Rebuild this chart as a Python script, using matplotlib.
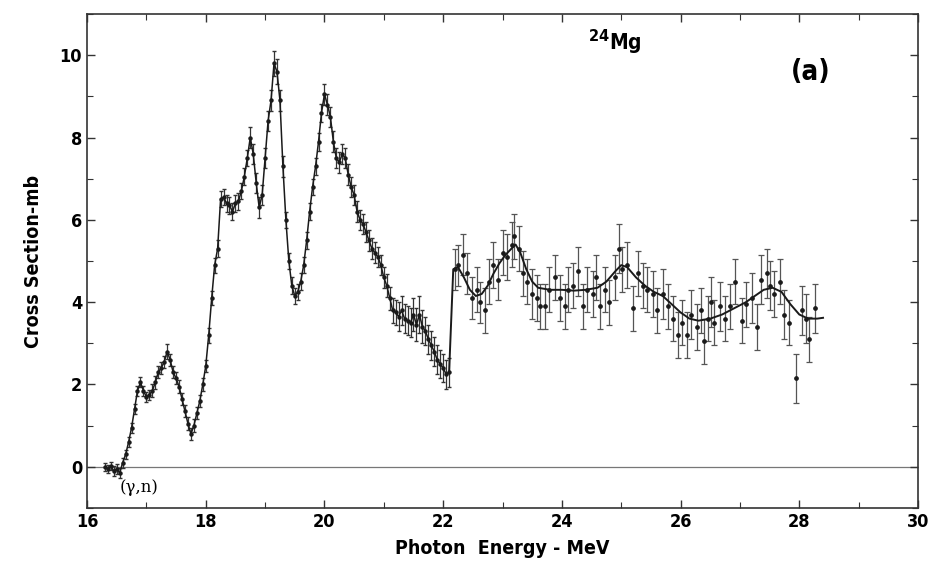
import matplotlib
matplotlib.use("Agg")
import matplotlib.pyplot as plt
from matplotlib import font_manager
from matplotlib.ticker import MultipleLocator

# photon energy (MeV), cross section (mb), error (mb) - low energy region, line joins points
e_low = [16.30, 16.35, 16.40, 16.45, 16.50, 16.55, 16.60, 16.65, 16.70, 16.75,
         16.80, 16.85, 16.90, 16.95, 17.00, 17.05, 17.10, 17.15, 17.20, 17.25,
         17.30, 17.35, 17.40, 17.45, 17.50, 17.55, 17.60, 17.65, 17.70, 17.75,
         17.80, 17.85, 17.90, 17.95, 18.00, 18.05, 18.10, 18.15, 18.20, 18.25,
         18.30, 18.35, 18.40, 18.45, 18.50, 18.55, 18.60, 18.65, 18.70, 18.75,
         18.80, 18.85, 18.90, 18.95, 19.00, 19.05, 19.10, 19.15, 19.20, 19.25,
         19.30, 19.35, 19.40, 19.45, 19.50, 19.55, 19.60, 19.65, 19.70, 19.75,
         19.80, 19.85, 19.90, 19.95, 20.00, 20.05, 20.10, 20.15, 20.20, 20.25,
         20.30, 20.35, 20.40, 20.45, 20.50, 20.55, 20.60, 20.65, 20.70, 20.75,
         20.80, 20.85, 20.90, 20.95, 21.00, 21.05, 21.10, 21.15, 21.20, 21.25,
         21.30, 21.35, 21.40, 21.45, 21.50, 21.55, 21.60, 21.65, 21.70, 21.75,
         21.80, 21.85, 21.90, 21.95, 22.00, 22.05, 22.10]
xs_low = [0.00, -0.05, 0.02, -0.10, -0.05, -0.15, 0.10, 0.30, 0.60, 0.95,
          1.40, 1.85, 2.05, 1.85, 1.70, 1.75, 1.85, 2.05, 2.30, 2.40,
          2.55, 2.80, 2.60, 2.30, 2.15, 1.95, 1.65, 1.35, 1.05, 0.80,
          1.00, 1.30, 1.60, 2.00, 2.45, 3.20, 4.10, 4.90, 5.30, 6.50,
          6.55, 6.40, 6.35, 6.20, 6.40, 6.45, 6.70, 7.05, 7.50, 8.00,
          7.60, 6.90, 6.30, 6.60, 7.50, 8.40, 8.90, 9.80, 9.60, 8.90,
          7.30, 6.00, 5.00, 4.40, 4.15, 4.25, 4.50, 4.90, 5.50, 6.20,
          6.80, 7.30, 7.90, 8.60, 9.05, 8.80, 8.50, 7.90, 7.50, 7.40,
          7.60, 7.50, 7.10, 6.80, 6.60, 6.20, 6.00, 5.90, 5.70, 5.50,
          5.30, 5.20, 5.10, 4.90, 4.60, 4.40, 4.10, 3.80, 3.75, 3.65,
          3.80, 3.60, 3.55, 3.50, 3.70, 3.45, 3.70, 3.40, 3.30, 3.10,
          2.95, 2.80, 2.60, 2.50, 2.40, 2.25, 2.30]
err_low = [0.10, 0.10, 0.10, 0.12, 0.12, 0.12, 0.12, 0.12, 0.12, 0.12,
           0.12, 0.12, 0.12, 0.12, 0.12, 0.12, 0.15, 0.15, 0.15, 0.15,
           0.15, 0.18, 0.15, 0.15, 0.15, 0.15, 0.15, 0.15, 0.15, 0.15,
           0.15, 0.15, 0.15, 0.15, 0.15, 0.18, 0.18, 0.18, 0.20, 0.20,
           0.20, 0.20, 0.20, 0.20, 0.20, 0.20, 0.20, 0.20, 0.20, 0.25,
           0.25, 0.25, 0.25, 0.25, 0.25, 0.25, 0.25, 0.30, 0.30, 0.25,
           0.25, 0.20, 0.20, 0.20, 0.20, 0.20, 0.20, 0.20, 0.20, 0.20,
           0.20, 0.20, 0.22, 0.22, 0.25, 0.25, 0.25, 0.25, 0.25, 0.25,
           0.25, 0.25, 0.25, 0.25, 0.25, 0.25, 0.25, 0.25, 0.25, 0.25,
           0.25, 0.25, 0.25, 0.25, 0.25, 0.28, 0.28, 0.30, 0.30, 0.35,
           0.35, 0.35, 0.35, 0.35, 0.40, 0.40, 0.45, 0.40, 0.35, 0.35,
           0.35, 0.35, 0.35, 0.35, 0.35, 0.35, 0.35]

# high energy region, scattered points around a smooth curve
e_high = [22.20, 22.25, 22.33, 22.40, 22.48, 22.57, 22.62, 22.70, 22.78, 22.84,
          22.92, 23.00, 23.07, 23.16, 23.20, 23.27, 23.34, 23.41, 23.49, 23.58,
          23.63, 23.71, 23.79, 23.88, 23.96, 24.05, 24.10, 24.18, 24.27, 24.35,
          24.43, 24.52, 24.58, 24.64, 24.72, 24.80, 24.89, 24.97, 25.02, 25.10,
          25.19, 25.28, 25.36, 25.44, 25.53, 25.61, 25.70, 25.78, 25.87, 25.95,
          26.03, 26.10, 26.18, 26.27, 26.35, 26.40, 26.46, 26.52, 26.57, 26.66,
          26.74, 26.83, 26.91, 27.03, 27.11, 27.20, 27.28, 27.36, 27.45, 27.50,
          27.58, 27.67, 27.75, 27.83, 27.95, 28.04, 28.12, 28.17, 28.26]
xs_high = [4.80, 4.90, 5.15, 4.70, 4.10, 4.30, 4.00, 3.80, 4.50, 4.90,
           4.55, 5.20, 5.10, 5.40, 5.60, 5.30, 4.70, 4.50, 4.20, 4.10,
           3.90, 3.90, 4.30, 4.60, 4.10, 3.90, 4.30, 4.40, 4.75, 3.90,
           4.30, 4.20, 4.60, 3.90, 4.30, 4.00, 4.60, 5.30, 4.80, 4.90,
           3.85, 4.70, 4.40, 4.30, 4.20, 3.80, 4.20, 3.90, 3.60, 3.20,
           3.50, 3.20, 3.70, 3.40, 3.80, 3.05, 3.60, 4.00, 3.50, 3.90,
           3.60, 3.90, 4.50, 3.55, 3.95, 4.10, 3.40, 4.55, 4.70, 4.40,
           4.20, 4.50, 3.70, 3.50, 2.15, 3.80, 3.60, 3.10, 3.85]
err_high = [0.50, 0.50, 0.50, 0.50, 0.50, 0.55, 0.50, 0.55, 0.55, 0.55,
            0.50, 0.55, 0.55, 0.55, 0.55, 0.55, 0.55, 0.55, 0.60, 0.55,
            0.55, 0.55, 0.55, 0.55, 0.55, 0.55, 0.55, 0.55, 0.60, 0.55,
            0.55, 0.55, 0.55, 0.55, 0.55, 0.55, 0.55, 0.60, 0.55, 0.55,
            0.55, 0.55, 0.55, 0.55, 0.55, 0.55, 0.60, 0.55, 0.55, 0.55,
            0.55, 0.55, 0.60, 0.55, 0.55, 0.55, 0.55, 0.60, 0.55, 0.60,
            0.55, 0.55, 0.55, 0.55, 0.55, 0.60, 0.55, 0.60, 0.60, 0.60,
            0.55, 0.55, 0.60, 0.55, 0.60, 0.60, 0.60, 0.55, 0.60]

# smooth curve through the high energy points
e_fit = [22.10, 22.17, 22.25, 22.35, 22.45, 22.55, 22.65, 22.75, 22.85, 22.95,
         23.05, 23.15, 23.22, 23.30, 23.40, 23.50, 23.60, 23.80, 24.00, 24.20,
         24.40, 24.60, 24.75, 24.90, 25.00, 25.10, 25.25, 25.40, 25.55, 25.70,
         25.85, 26.00, 26.15, 26.30, 26.50, 26.70, 26.90, 27.10, 27.25, 27.40,
         27.55, 27.70, 27.85, 28.00, 28.15, 28.30, 28.40]
xs_fit = [2.30, 4.80, 4.85, 4.60, 4.30, 4.15, 4.20, 4.40, 4.70, 4.95,
          5.15, 5.30, 5.40, 5.20, 4.80, 4.50, 4.35, 4.30, 4.30, 4.28,
          4.30, 4.35, 4.50, 4.75, 4.90, 4.85, 4.60, 4.40, 4.25, 4.15,
          3.95, 3.75, 3.60, 3.55, 3.60, 3.70, 3.85, 4.00, 4.15, 4.30,
          4.35, 4.25, 3.95, 3.70, 3.60, 3.60, 3.62]

# condensed bold face like the original print, if one is installed
names = {f.name for f in font_manager.fontManager.ttflist}
cond = [n for n in ["Liberation Sans Narrow", "DejaVu Sans Condensed"] if n in names]
fam = cond + ["DejaVu Sans"]

fig = plt.figure(figsize=(9.4, 5.7), dpi=100)
ax = fig.add_axes([0.0926, 0.1088, 0.884, 0.8666])

ink = "#1a1a1a"
ax.axhline(0, color="#777777", lw=0.9, zorder=1)

ax.errorbar(e_low, xs_low, yerr=err_low, fmt="o", ms=2.2, color=ink,
            ecolor="#333333", elinewidth=0.9, capsize=1.2, lw=1.0, zorder=3)
ax.plot(e_low, xs_low, color=ink, lw=1.1, zorder=3)

ax.errorbar(e_high, xs_high, yerr=err_high, fmt="o", ms=2.4, color=ink,
            ecolor="#555555", elinewidth=0.9, capsize=2.0, capthick=0.9, zorder=3)
ax.plot(e_fit, xs_fit, color=ink, lw=1.4, zorder=4)

ax.set_xlim(16, 30)
ax.set_ylim(-1, 11)
ax.xaxis.set_major_locator(MultipleLocator(2))
ax.xaxis.set_minor_locator(MultipleLocator(1))
ax.yaxis.set_major_locator(MultipleLocator(2))
ax.yaxis.set_minor_locator(MultipleLocator(1))
ax.tick_params(which="both", direction="in", top=True, right=True, color="#333333")
ax.tick_params(which="major", length=6, width=1)
ax.tick_params(which="minor", length=4, width=0.8)
for lbl in ax.get_xticklabels() + ax.get_yticklabels():
    lbl.set_fontweight("bold")
    lbl.set_fontsize(13)
    lbl.set_family(fam)
    lbl.set_fontstretch("condensed")

for sp in ax.spines.values():
    sp.set_color("#333333")
    sp.set_linewidth(1.2)

ax.set_xlabel("Photon  Energy - MeV", fontsize=14, fontweight="bold",
              family=fam, fontstretch="condensed", labelpad=6)
ax.set_ylabel("Cross Section-mb", fontsize=14, fontweight="bold",
              family=fam, fontstretch="condensed", labelpad=12)

ax.text(24.9, 10.3, r"$^{\mathbf{24}}$Mg", fontsize=15, fontweight="bold",
        family=fam, fontstretch="condensed", ha="center", va="center")
ax.text(28.2, 9.6, "(a)", fontsize=20, fontweight="bold",
        family=fam, fontstretch="condensed", ha="center", va="center")
ax.text(16.55, -0.5, "(γ,n)", fontsize=12, family=["DejaVu Serif"],
        ha="left", va="center")

fig.savefig("out.png", dpi=100)
